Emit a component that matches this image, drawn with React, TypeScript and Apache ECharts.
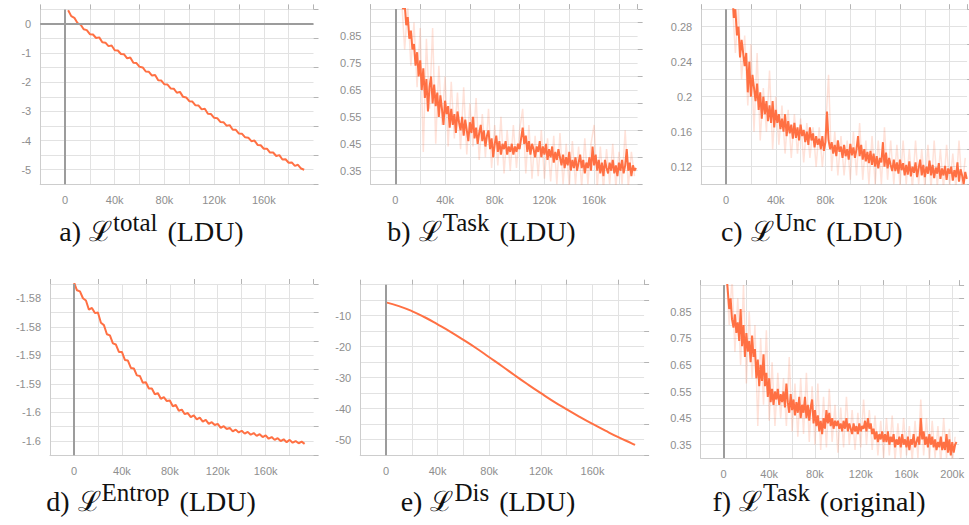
import React, { useEffect, useRef } from "react";
import * as echarts from "echarts";

// ---------------- data ----------------
const X_MIN = -20000;
const X_GRID_STEP = 20000;
const X_LABEL_STEP = 40000;

const xLabelsShort = ["0", "40k", "80k", "120k", "160k"];
const xLabelsLong = ["0", "40k", "80k", "120k", "160k", "200k"];

// a) L^total (LDU)
const aStart = 2500;
const aStep = 2500;
const aTotal = [
  0.47, 0.27, 0.21, 0.03, -0.02, -0.18, -0.21, -0.35, -0.36, -0.48,
  -0.46, -0.63, -0.64, -0.76, -0.74, -0.90, -0.91, -1.03, -1.04, -1.18,
  -1.15, -1.33, -1.34, -1.47, -1.49, -1.63, -1.64, -1.77, -1.75, -1.93,
  -1.94, -2.07, -2.08, -2.21, -2.22, -2.36, -2.33, -2.50, -2.52, -2.65,
  -2.66, -2.79, -2.80, -2.93, -2.91, -3.08, -3.09, -3.22, -3.23, -3.36,
  -3.37, -3.49, -3.47, -3.63, -3.63, -3.76, -3.77, -3.89, -3.90, -4.02,
  -4.00, -4.15, -4.16, -4.28, -4.28, -4.41, -4.41, -4.53, -4.50, -4.65,
  -4.64, -4.76, -4.75, -4.87, -4.83, -4.96, -5.0,
];
const aYLabels = ["-5", "-4", "-3", "-2", "-1", "0"];

// b) L^Task (LDU)
const bSmoothStart = 5000;
const bSmoothStep = 1250;
const bTaskSmooth = [
  1.00, 0.95, 0.97, 0.89, 0.92, 0.84, 0.87, 0.80,
  0.82, 0.74, 0.79, 0.70, 0.76, 0.65, 0.73, 0.62,
  0.69, 0.57, 0.66, 0.70, 0.60, 0.67, 0.59, 0.64,
  0.55, 0.63, 0.58, 0.52, 0.61, 0.56, 0.59, 0.51,
  0.58, 0.52, 0.56, 0.49, 0.57, 0.53, 0.50, 0.55,
  0.48, 0.54, 0.50, 0.46, 0.53, 0.49, 0.55, 0.47,
  0.51, 0.45, 0.49, 0.52, 0.46, 0.50, 0.44, 0.48,
  0.50, 0.43, 0.47, 0.40, 0.45, 0.48, 0.42, 0.46,
  0.41, 0.45, 0.43, 0.46, 0.41, 0.44, 0.42, 0.45,
  0.41, 0.44, 0.42, 0.45, 0.43, 0.47, 0.51, 0.45,
  0.48, 0.42, 0.46, 0.41, 0.45, 0.43, 0.40, 0.44,
  0.42, 0.46, 0.40, 0.44, 0.41, 0.45, 0.39, 0.43,
  0.40, 0.44, 0.38, 0.42, 0.39, 0.43, 0.40, 0.37,
  0.41, 0.36, 0.40, 0.37, 0.42, 0.35, 0.39, 0.36,
  0.40, 0.35, 0.38, 0.41, 0.36, 0.39, 0.34, 0.38,
  0.36, 0.40, 0.35, 0.44, 0.37, 0.41, 0.35, 0.39,
  0.34, 0.38, 0.33, 0.39, 0.36, 0.34, 0.38, 0.35,
  0.39, 0.34, 0.37, 0.33, 0.38, 0.35, 0.39, 0.34,
  0.37, 0.43, 0.35, 0.38, 0.33, 0.37, 0.35, 0.36,
];
const bRawStart = 5000;
const bRawStep = 2500;
const bTaskRaw = [
  0.99, 0.80, 0.96, 0.74, 0.90, 0.66, 0.88, 0.42, 0.84, 0.58,
  0.88, 0.45, 0.74, 0.52, 0.70, 0.44, 0.68, 0.47, 0.64, 0.43,
  0.66, 0.41, 0.60, 0.44, 0.62, 0.39, 0.56, 0.40, 0.58, 0.36,
  0.52, 0.37, 0.55, 0.34, 0.50, 0.35, 0.52, 0.36, 0.50, 0.58,
  0.34, 0.52, 0.32, 0.48, 0.33, 0.50, 0.32, 0.47, 0.31, 0.48,
  0.30, 0.49, 0.30, 0.45, 0.29, 0.46, 0.30, 0.44, 0.29, 0.47,
  0.30, 0.45, 0.52, 0.29, 0.44, 0.28, 0.43, 0.30, 0.45, 0.29,
  0.42, 0.30, 0.50, 0.29, 0.42, 0.33,
];
const taskYLabels = ["0.35", "0.45", "0.55", "0.65", "0.75", "0.85"];

// c) L^Unc (LDU)
const cSmoothStart = 5000;
const cSmoothStep = 1250;
const cUncSmooth = [
  0.32, 0.29, 0.30, 0.27, 0.28, 0.245, 0.265, 0.25,
  0.235, 0.25, 0.205, 0.24, 0.20, 0.225, 0.21, 0.195,
  0.215, 0.185, 0.205, 0.175, 0.20, 0.18, 0.195, 0.172,
  0.19, 0.17, 0.195, 0.165, 0.185, 0.17, 0.18, 0.163,
  0.175, 0.16, 0.18, 0.155, 0.172, 0.158, 0.168, 0.152,
  0.17, 0.153, 0.165, 0.15, 0.168, 0.155, 0.162, 0.148,
  0.16, 0.145, 0.165, 0.15, 0.158, 0.142, 0.155, 0.145,
  0.152, 0.14, 0.155, 0.138, 0.148, 0.183, 0.15, 0.14,
  0.148, 0.135, 0.145, 0.132, 0.15, 0.137, 0.143, 0.13,
  0.145, 0.132, 0.14, 0.128, 0.146, 0.133, 0.142, 0.13,
  0.14, 0.155, 0.132, 0.145, 0.128, 0.14, 0.126, 0.137,
  0.124, 0.138, 0.122, 0.135, 0.12, 0.132, 0.118, 0.13,
  0.125, 0.148, 0.12, 0.136, 0.118, 0.13, 0.122, 0.115,
  0.128, 0.115, 0.125, 0.112, 0.128, 0.116, 0.124, 0.11,
  0.122, 0.111, 0.126, 0.109, 0.12, 0.113, 0.125, 0.108,
  0.118, 0.128, 0.11, 0.122, 0.108, 0.12, 0.112, 0.127,
  0.11, 0.122, 0.107, 0.119, 0.112, 0.124, 0.106, 0.118,
  0.11, 0.121, 0.105, 0.118, 0.112, 0.12, 0.104, 0.116,
  0.108, 0.125, 0.103, 0.117, 0.11, 0.1, 0.114, 0.106,
];
const cRawStart = 5000;
const cRawStep = 2500;
const cUncRaw = [
  0.31, 0.25, 0.30, 0.22, 0.27, 0.19, 0.26, 0.16, 0.25, 0.15,
  0.21, 0.16, 0.23, 0.14, 0.20, 0.145, 0.19, 0.135, 0.185, 0.13,
  0.18, 0.135, 0.175, 0.125, 0.17, 0.13, 0.165, 0.12, 0.165, 0.12,
  0.16, 0.225, 0.115, 0.16, 0.11, 0.155, 0.11, 0.15, 0.105, 0.16,
  0.11, 0.17, 0.105, 0.15, 0.10, 0.155, 0.10, 0.15, 0.10, 0.165,
  0.105, 0.15, 0.10, 0.145, 0.098, 0.15, 0.10, 0.14, 0.095, 0.15,
  0.10, 0.14, 0.097, 0.145, 0.095, 0.15, 0.097, 0.14, 0.095, 0.145,
  0.098, 0.135, 0.095, 0.15, 0.095, 0.13,
];
const cYLabels = ["0.12", "0.16", "0.2", "0.24", "0.28"];

// d) L^Entrop (LDU)
const dStart = 0;
const dStep = 2500;
const dEntrop = [
  -1.5722, -1.5736, -1.5738, -1.575, -1.5754, -1.577, -1.5767, -1.5776, -1.5775, -1.5793,
  -1.5797, -1.5813, -1.5815, -1.5829, -1.5831, -1.5844, -1.5844, -1.5858, -1.5859, -1.5872,
  -1.5873, -1.5885, -1.5886, -1.5898, -1.5897, -1.5908, -1.5908, -1.5918, -1.5916, -1.5926,
  -1.5923, -1.593, -1.5929, -1.5939, -1.5937, -1.5947, -1.5945, -1.5953, -1.5951, -1.5958,
  -1.5955, -1.5962, -1.5959, -1.5966, -1.5963, -1.597, -1.5967, -1.5972, -1.597, -1.5977,
  -1.5974, -1.5979, -1.5977, -1.5983, -1.598, -1.5985, -1.5982, -1.5987, -1.5984, -1.5989,
  -1.5986, -1.5991, -1.5988, -1.5993, -1.599, -1.5996, -1.5993, -1.5998, -1.5995, -1.6,
  -1.5997, -1.6002, -1.5998, -1.6003, -1.6, -1.6004, -1.6001, -1.6005,
];
const dYLabels = ["-1.6", "-1.6", "-1.59", "-1.59", "-1.58", "-1.58"];

// e) L^Dis (LDU)
const eSteps = [
  0, 10000, 20000, 30000, 40000, 50000, 60000, 70000, 80000, 90000, 100000,
  110000, 120000, 130000, 140000, 150000, 160000, 170000, 180000, 190000, 193000,
];
const eDis = [
  -5.7, -6.9, -8.5, -10.5, -12.8, -15.2, -17.8, -20.5, -23.4, -26.3, -29.3,
  -32.2, -35.0, -37.7, -40.2, -42.6, -44.9, -47.1, -49.2, -51.1, -51.7,
];
const eYLabels = ["-50", "-40", "-30", "-20", "-10"];

// f) L^Task (original)
const fSmoothStart = 2500;
const fSmoothStep = 1250;
const fTaskSmooth = [
  1.00, 0.93, 0.86, 0.90, 0.82, 0.79, 0.84, 0.77,
  0.81, 0.74, 0.86, 0.72, 0.80, 0.68, 0.77, 0.70,
  0.74, 0.66, 0.76, 0.68, 0.71, 0.60, 0.67, 0.57,
  0.65, 0.59, 0.69, 0.57, 0.62, 0.53, 0.60, 0.51,
  0.56, 0.50, 0.55, 0.52, 0.56, 0.50, 0.54, 0.51,
  0.55, 0.49, 0.58, 0.51, 0.47, 0.54, 0.48, 0.52,
  0.46, 0.51, 0.47, 0.53, 0.45, 0.50, 0.47, 0.53,
  0.45, 0.50, 0.44, 0.49, 0.52, 0.43, 0.48, 0.42,
  0.46, 0.40, 0.44, 0.39, 0.45, 0.41, 0.48, 0.43,
  0.47, 0.42, 0.45, 0.41, 0.44, 0.42, 0.44, 0.41,
  0.43, 0.40, 0.44, 0.41, 0.45, 0.40, 0.43, 0.41,
  0.39, 0.43, 0.40, 0.42, 0.39, 0.43, 0.40, 0.42,
  0.41, 0.44, 0.40, 0.45, 0.41, 0.43, 0.39, 0.41,
  0.37, 0.40, 0.36, 0.39, 0.37, 0.40, 0.36, 0.39,
  0.36, 0.40, 0.35, 0.38, 0.36, 0.39, 0.34, 0.37,
  0.35, 0.38, 0.34, 0.39, 0.35, 0.37, 0.34, 0.38,
  0.33, 0.37, 0.35, 0.39, 0.34, 0.36, 0.38, 0.35,
  0.45, 0.37, 0.40, 0.35, 0.38, 0.34, 0.39, 0.35,
  0.38, 0.34, 0.37, 0.33, 0.36, 0.34, 0.38, 0.33,
  0.36, 0.33, 0.39, 0.32, 0.37, 0.31, 0.36, 0.32,
  0.35, 0.36,
];
const fRawStart = 2500;
const fRawStep = 2500;
const fTaskRaw = [
  1.0, 0.80, 0.98, 0.70, 0.90, 0.65, 0.95, 0.58, 0.85, 0.60,
  0.80, 0.42, 0.75, 0.50, 0.78, 0.44, 0.66, 0.42, 0.62, 0.45,
  0.60, 0.42, 0.68, 0.40, 0.58, 0.38, 0.60, 0.39, 0.62, 0.36,
  0.57, 0.35, 0.58, 0.33, 0.53, 0.34, 0.56, 0.36, 0.50, 0.32,
  0.49, 0.34, 0.53, 0.35, 0.48, 0.33, 0.47, 0.34, 0.52, 0.35,
  0.48, 0.33, 0.46, 0.31, 0.44, 0.30, 0.45, 0.31, 0.46, 0.29,
  0.43, 0.30, 0.45, 0.31, 0.42, 0.29, 0.44, 0.30, 0.52, 0.31,
  0.45, 0.29, 0.44, 0.30, 0.42, 0.28, 0.45, 0.30, 0.41, 0.28,
  0.38,
];

// captions
const captionParts = [
  { prefix: "a)", sup: "total", suffix: "(LDU)" },
  { prefix: "b)", sup: "Task", suffix: "(LDU)" },
  { prefix: "c)", sup: "Unc", suffix: "(LDU)" },
  { prefix: "d)", sup: "Entrop", suffix: "(LDU)" },
  { prefix: "e)", sup: "Dis", suffix: "(LDU)" },
  { prefix: "f)", sup: "Task", suffix: "(original)" },
];
const SCRIPT_L = "\u2112";

// ---------------- layout / style ----------------
const W = 969;
const H = 525;
const ORANGE = "#ff7043";
const ORANGE_FAINT = "rgba(255,112,67,0.2)";
const GRID_C = "#e2e2e2";
const AXIS_C = "#cdcdcd";
const TICK_C = "#b4b4b4";
const LABEL_C = "#8e8e8e";
const ZERO_C = "#9c9c9c";

const pairs = (start: number, step: number, vals: number[]) =>
  vals.map((v, i) => [start + i * step, v]);

type Panel = {
  left: number; top: number; width: number; height: number;
  xMax: number; yMin: number; yMax: number; yStep: number;
  yLabels: string[]; xLabels: string[];
  main: number[][]; raw?: number[][]; smooth?: boolean; hZero?: boolean;
  cx: number; base: number;
};

const PANELS: Panel[] = [
  { left: 40.2, top: 9.4, width: 273.3, height: 174.9, xMax: 200000, yMin: -5.5, yMax: 0.5, yStep: 0.5,
    yLabels: aYLabels, xLabels: xLabelsShort, main: pairs(aStart, aStep, aTotal), hZero: true, cx: 151.5, base: 246.5 },
  { left: 370.5, top: 9.1, width: 267.1, height: 175.1, xMax: 195000, yMin: 0.3, yMax: 0.95, yStep: 0.05,
    yLabels: taskYLabels, xLabels: xLabelsShort, main: pairs(bSmoothStart, bSmoothStep, bTaskSmooth),
    raw: pairs(bRawStart, bRawStep, bTaskRaw), cx: 481.5, base: 246.5 },
  { left: 701.2, top: 9.2, width: 265.9, height: 175, xMax: 194000, yMin: 0.1, yMax: 0.3, yStep: 0.02,
    yLabels: cYLabels, xLabels: xLabelsShort, main: pairs(cSmoothStart, cSmoothStep, cUncSmooth),
    raw: pairs(cRawStart, cRawStep, cUncRaw), cx: 811.7, base: 246.5 },
  { left: 50.0, top: 284.0, width: 263.6, height: 171.3, xMax: 200000, yMin: -1.6025, yMax: -1.5725, yStep: 0.0025,
    yLabels: dYLabels, xLabels: xLabelsShort, main: pairs(dStart, dStep, dEntrop), cx: 151, base: 516.5 },
  { left: 360.2, top: 284.7, width: 283.9, height: 170.5, xMax: 200000, yMin: -55, yMax: 0, yStep: 5,
    yLabels: eYLabels, xLabels: xLabelsShort, main: eSteps.map((x, i) => [x, eDis[i]]), smooth: true, cx: 488, base: 516.5 },
  { left: 700.6, top: 285.1, width: 258.5, height: 172.9, xMax: 206000, yMin: 0.3, yMax: 0.95, yStep: 0.05,
    yLabels: taskYLabels, xLabels: xLabelsLong, main: pairs(fSmoothStart, fSmoothStep, fTaskSmooth),
    raw: pairs(fRawStart, fRawStep, fTaskRaw), cx: 819, base: 516.5 },
];

const MAIN_SIZE = 28;
const SUP_SIZE = 25;
const LINE_H = 40;
const SUP_RAISE = 11;
const SERIF = "Liberation Serif";

function buildTitles() {
  const base = { fontFamily: SERIF, color: "#111", fontWeight: "normal" as const, lineHeight: LINE_H, verticalAlign: "bottom" as const };
  return PANELS.map((p, i) => {
    const cp = captionParts[i];
    return {
      text: `{pa|${cp.prefix}}{l|${SCRIPT_L}}{s|${cp.sup}}{q|${cp.suffix}}`,
      left: p.cx,
      top: p.base - (LINE_H + SUP_RAISE) + LINE_H / 2 - 0.34 * MAIN_SIZE,
      textAlign: "center",
      textVerticalAlign: "top",
      padding: 0,
      itemGap: 0,
      textStyle: {
        fontFamily: SERIF, fontSize: MAIN_SIZE, color: "#111", fontWeight: "normal",
        rich: {
          pa: { ...base, fontSize: MAIN_SIZE, padding: [0, 8, 0, 0] },
          l: { ...base, fontSize: MAIN_SIZE, padding: [0, 1, 0, 0] },
          s: { ...base, fontSize: SUP_SIZE, padding: [0, 0, SUP_RAISE, 0] },
          q: { ...base, fontSize: MAIN_SIZE, padding: [0, 0, 0, 10] },
        },
      },
    };
  });
}

function buildOption(): any {
  const grid: any[] = [];
  const xAxis: any[] = [];
  const yAxis: any[] = [];
  const series: any[] = [];

  PANELS.forEach((p, i) => {
    grid.push({ left: p.left, top: p.top, width: p.width, height: p.height, containLabel: false, outerBoundsMode: "none" });
    xAxis.push({
      type: "value", gridIndex: i, min: X_MIN, max: p.xMax, interval: X_GRID_STEP,
      axisLine: { show: true, onZero: false, lineStyle: { color: AXIS_C, width: 1 } },
      axisTick: { show: false },
      axisLabel: {
        margin: 10, color: LABEL_C, fontSize: 11,
        formatter: (v: number) => {
          if (v < 0) return "";
          const k = v / X_LABEL_STEP;
          const r = Math.round(k);
          if (Math.abs(k - r) > 1e-6) return "";
          return p.xLabels[r] ?? "";
        },
      },
      splitLine: { show: true, showMaxLine: false, lineStyle: { color: GRID_C, width: 1 } },
    });
    yAxis.push({
      type: "value", gridIndex: i, min: p.yMin, max: p.yMax, interval: p.yStep,
      axisLine: { show: true, onZero: false, lineStyle: { color: AXIS_C, width: 1 } },
      axisTick: { show: false },
      axisLabel: {
        margin: 9, color: LABEL_C, fontSize: 11,
        formatter: (v: number) => {
          const idx = Math.round((v - p.yMin) / p.yStep);
          if (idx % 2 !== 1) return "";
          return p.yLabels[(idx - 1) / 2] ?? "";
        },
      },
      splitLine: { show: true, lineStyle: { color: GRID_C, width: 1 } },
    });
  });
  // tick-only axes (ticks at the unlabeled grid lines)
  PANELS.forEach((p, i) => {
    xAxis.push({
      type: "value", gridIndex: i, min: X_MIN, max: p.xMax, interval: X_LABEL_STEP,
      axisLine: { show: false, onZero: false },
      axisTick: { show: true, length: 5, lineStyle: { color: TICK_C, width: 1 } },
      axisLabel: { show: false }, splitLine: { show: false },
    });
    yAxis.push({
      type: "value", gridIndex: i, min: p.yMin, max: p.yMax, interval: p.yStep * 2,
      axisLine: { show: false, onZero: false },
      axisTick: { show: true, length: 5, lineStyle: { color: TICK_C, width: 1 } },
      axisLabel: { show: false }, splitLine: { show: false },
    });
  });

  PANELS.forEach((p, i) => {
    const markData: any[] = [{ xAxis: 0 }];
    if (p.hZero) markData.push({ yAxis: 0 });
    const markLine = {
      silent: true, symbol: ["none", "none"], animation: false,
      label: { show: false },
      lineStyle: { color: ZERO_C, width: 2, type: "solid" },
      emphasis: { disabled: true },
      data: markData,
    };
    if (p.raw) {
      series.push({
        type: "line", xAxisIndex: i, yAxisIndex: i, data: p.raw, showSymbol: false, symbol: "none",
        silent: true, z: 2, lineStyle: { color: ORANGE_FAINT, width: 1.5 }, markLine,
      });
    }
    series.push({
      type: "line", xAxisIndex: i, yAxisIndex: i, data: p.main, showSymbol: false, symbol: "none",
      silent: true, z: 3, smooth: !!p.smooth, lineStyle: { color: ORANGE, width: 2 },
      ...(p.raw ? {} : { markLine }),
    });
  });

  return {
    animation: false,
    title: buildTitles(),
    grid, xAxis, yAxis, series,
  };
}

export default function App() {
  const ref = useRef<HTMLDivElement>(null);
  useEffect(() => {
    if (!ref.current) return;
    const chart = echarts.init(ref.current, undefined, { renderer: "svg", width: W, height: H });
    chart.setOption(buildOption());
    return () => chart.dispose();
  }, []);
  return (
    <div
      ref={ref}
      style={{ position: "absolute", left: 0, top: 0, width: W, height: H, background: "#fff" }}
    />
  );
}
